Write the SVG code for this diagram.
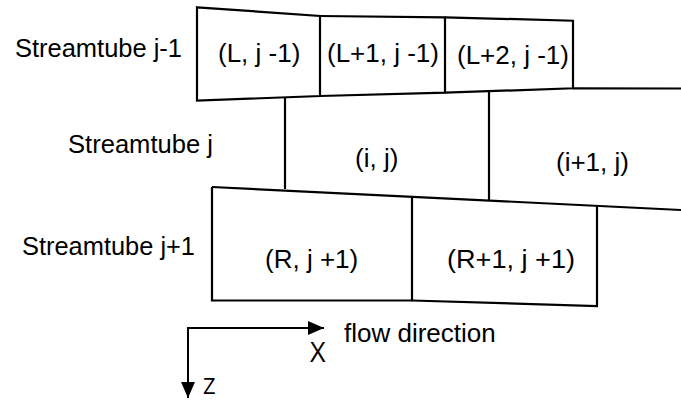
<svg xmlns="http://www.w3.org/2000/svg" width="681" height="400" viewBox="0 0 681 400">
<style>
.ln{fill:none;stroke:#000;stroke-width:2.2;stroke-linejoin:miter}
.ax{fill:none;stroke:#000;stroke-width:2}
.t{font-family:"Liberation Sans",Arial,sans-serif;font-size:25px;fill:#000}
.c{font-family:"Liberation Sans",Arial,sans-serif;font-size:26px;fill:#000}
.a{font-family:"Open Sans","DejaVu Sans",sans-serif;fill:#000}
</style>
<defs>
<marker id="ah" viewBox="0 0 16 14" refX="16" refY="7" markerWidth="16" markerHeight="14" markerUnits="userSpaceOnUse" orient="auto">
<path d="M0,0 L16,7 L0,14 Z" fill="#000"/>
</marker>
</defs>
<rect width="681" height="400" fill="#fff"/>
<g id="labels">
<text class="t" x="15" y="57" textLength="167" lengthAdjust="spacingAndGlyphs">Streamtube j-1</text>
<text class="t" x="68" y="153" textLength="145" lengthAdjust="spacingAndGlyphs">Streamtube j</text>
<text class="t" x="22" y="255" textLength="173" lengthAdjust="spacingAndGlyphs">Streamtube j+1</text>
</g>
<g id="cell-L-jm1">
<path class="ln" d="M197,7.3 L320,16 L320,96 L197,100.7 Z"/>
<text class="c" x="218" y="62">(L, j -1)</text>
</g>
<g id="cell-L1-jm1">
<path class="ln" d="M320,16 L445,17.3 L445,92.7 L320,96"/>
<text class="c" x="327" y="62">(L+1, j -1)</text>
</g>
<g id="cell-L2-jm1">
<path class="ln" d="M445,17.3 L573,20.7 L573,88.3 L445,92.7"/>
<text class="c" x="457" y="64">(L+2, j -1)</text>
</g>
<g id="cell-i-j">
<path class="ln" d="M285,97.4 L285,189"/>
<text class="c" x="355" y="167">(i, j)</text>
</g>
<g id="cell-i1-j">
<path class="ln" d="M489,91.3 L489,200.6"/>
<path class="ln" d="M573,88.3 L681,88.5"/>
<text class="c" x="556" y="171">(i+1, j)</text>
</g>
<g id="cell-R-jp1">
<path class="ln" d="M212,187 L681,210"/>
<path class="ln" d="M212,187 L212,300.5 L412,300.5 L412,196.8"/>
<text class="c" x="265" y="268">(R, j +1)</text>
</g>
<g id="cell-R1-jp1">
<path class="ln" d="M412,300.5 L597,306 L597,206"/>
<text class="c" x="447" y="268" textLength="128" lengthAdjust="spacingAndGlyphs">(R+1, j +1)</text>
</g>
<g id="connectors">
<path class="ax" d="M188,328 L324,328" marker-end="url(#ah)"/>
<path class="ax" d="M188,327 L188,398" marker-end="url(#ah)"/>
</g>
<g id="axis-labels">
<text class="c" x="344" y="342">flow direction</text>
<text class="a" x="310" y="362" font-size="27">X</text>
<text class="a" x="203" y="394" font-size="22">Z</text>
</g>
</svg>
